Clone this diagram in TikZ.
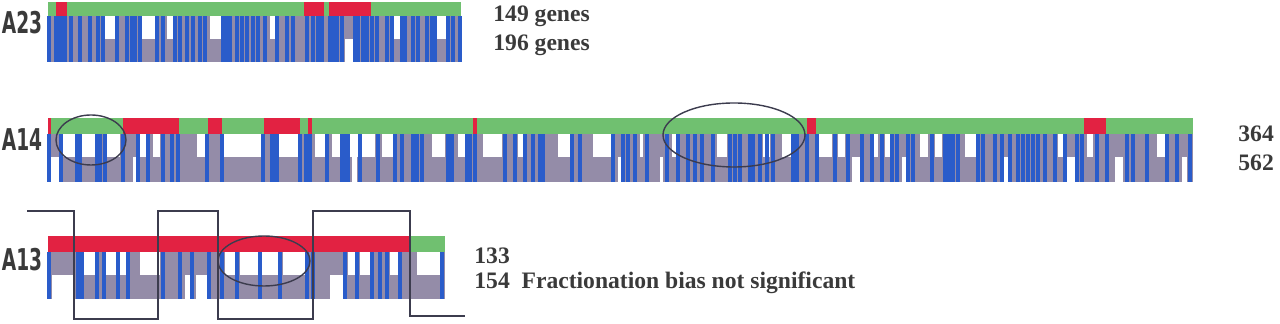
\documentclass[tikz,border=0pt]{standalone}
\usepackage{fontspec}
\setmainfont{Liberation Serif}
\newfontfamily\chrfont[FakeStretch=0.62]{DejaVu Sans}
\usetikzlibrary{positioning}
\definecolor{kept}{RGB}{112,192,112}
\definecolor{biased}{RGB}{226,34,66}
\definecolor{span}{RGB}{148,140,168}
\definecolor{genecol}{RGB}{42,92,202}
\definecolor{ink}{RGB}{58,58,58}
\definecolor{wavecol}{RGB}{60,60,78}

\begin{document}
\begin{tikzpicture}[x=0.5pt,y=-0.5pt,
  gap/.style={fill=white},
  geneline/.style={draw=genecol, line width=1.8pt},
  hot/.style={fill=biased},
  ring/.style={draw=wavecol, line width=0.7pt},
  wave/.style={draw=wavecol, line width=0.7pt},
  chr/.style={font=\chrfont\bfseries\fontsize{15}{16}\selectfont, text=ink, inner sep=0pt},
  cnt/.style={font=\bfseries\fontsize{11.8}{13}\selectfont, text=ink, anchor=base west, inner sep=0pt}]
\useasboundingbox (0,0) rectangle (1280,324);

% A23
\fill[span] (48,16) rectangle (461,62);
\foreach \a/\b in {104/115,142/155,167/174,210/222,270/276,393/400,437/447}
  \fill[gap] (\a,16) rectangle (\b,39);
\foreach \a/\b in {345/355}
  \fill[gap] (\a,39) rectangle (\b,62);
\foreach \x in {49,56,59,62,65,71,80,90,98,103,117,127,132,135,140,157,163,175,180,187,193,200,205,
  223,227,230,237,242,247,253,258,265,277,287,293,307,313,318,322,330,333,337,342,355,358,363,367,
  372,377,387,392,402,405,413,418,427,432,435,448,453,460}
  \draw[geneline] (\x,16) -- (\x,62);
\fill[kept] (48,2) rectangle (461,16);
\foreach \a/\b in {56/67,304/324,329/371}
  \fill[hot] (\a,2) rectangle (\b,16);

% A14
\fill[span] (48,134) rectangle (1193,182);
\foreach \a/\b in {62/75,82/95,107/120,140/147,153/160,197/205,224/262,278/298,315/325,332/340,
  350/358,362/375,382/393,432/445,458/465,483/502,518/523,558/570,593/612,640/643,672/677,
  717/727,763/770,782/792,818/832,838/845,873/878,885/890,920/928,935/942,965/977,1058/1063,
  1087/1093,1157/1165}
  \fill[gap] (\a,134) rectangle (\b,157);
\foreach \a/\b in {50/60,133/138,352/357,618/622,660/663,852/860,902/907,1003/1008,1067/1075,
  1115/1123,1182/1187}
  \fill[gap] (\a,157) rectangle (\b,182);
\foreach \x in {49,61,77,80,97,100,105,123,138,148,163,172,178,207,222,263,272,275,277,300,306,
  310,327,342,345,348,360,378,395,402,413,417,422,448,452,467,470,475,505,515,525,533,540,543,
  572,580,613,623,628,635,647,667,678,688,695,702,713,730,735,740,750,753,760,767,773,793,797,
  807,817,835,848,862,872,882,892,897,908,913,932,945,949,953,958,978,983,995,1002,1010,1018,
  1023,1028,1033,1038,1045,1055,1065,1077,1082,1097,1107,1127,1133,1147,1167,1177,1190}
  \draw[geneline] (\x,134) -- (\x,182);
\fill[kept] (48,118) rectangle (1193,134);
\foreach \a/\b in {48/51,123/179,208/222,264/300,308/312,473/477,807/816,1084/1106}
  \fill[hot] (\a,118) rectangle (\b,134);

% A13
\fill[span] (48,252) rectangle (445,299);
\foreach \a/\b in {83/96,106/117,120/127,140/160,225/235,240/258,262/278,283/305,348/355,
  360/370,390/398,417/440}
  \fill[gap] (\a,252) rectangle (\b,275);
\foreach \a/\b in {52/75,185/190,196/207,330/343}
  \fill[gap] (\a,275) rectangle (\b,299);
\foreach \x in {49,78,82,97,104,118,128,163,180,192,209,222,237,260,280,307,313,345,357,372,
  380,387,400,442}
  \draw[geneline] (\x,252) -- (\x,299);
\fill[hot] (48,236) rectangle (410,252);
\fill[kept] (410,236) rectangle (445,252);

% square wave and circled blocks
\draw[wave] (27,211) -| (74,319) -| (158,211) -| (218,319) -| (313,211) -| (410,316) -- (465,316);
\draw[ring] (91,140) ellipse [x radius=35, y radius=25];
\draw[ring] (734,135) ellipse [x radius=71, y radius=32];
\draw[ring] (264,261) ellipse [x radius=46, y radius=25];

% labels
\node[chr] (a23) at (22,23) {A23};
\node[chr] (a14) at (22,140) {A14};
\node[chr] (a13) at (22,260) {A13};
\node[cnt] (a23top) at (493,22) {149 genes};
\node[cnt] (a23bot) at (493,51) {196 genes};
\node[cnt] (a14top) at (1238,142) {364};
\node[cnt] (a14bot) at (1238,171) {562};
\node[cnt] (a13top) at (474,264) {133};
\node[cnt] (a13bot) at (474,289) {154\hspace{0.5em}Fractionation bias not significant};
\end{tikzpicture}
\end{document}
